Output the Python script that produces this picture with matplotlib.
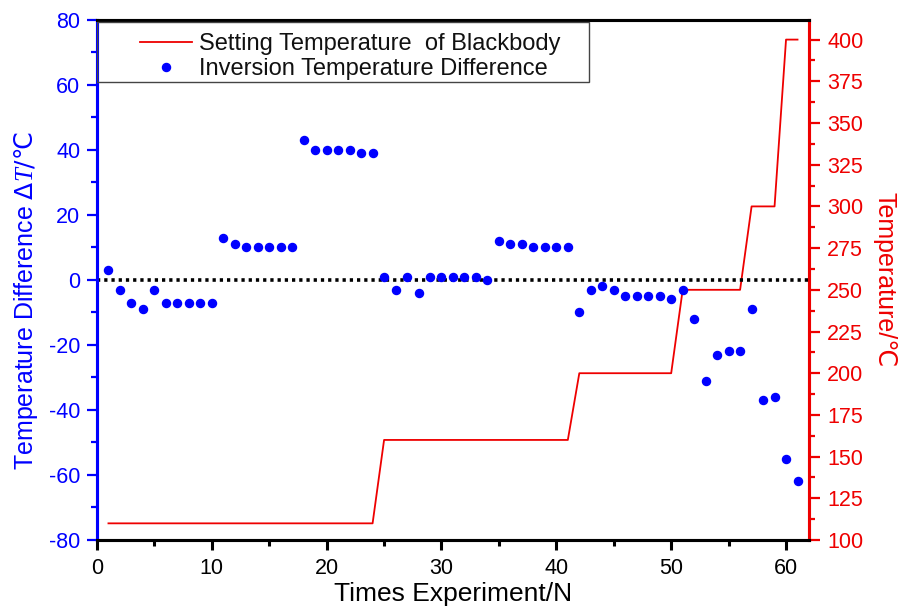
import numpy as np
import matplotlib
matplotlib.use("Agg")
import matplotlib.pyplot as plt
from matplotlib.ticker import MultipleLocator
from matplotlib.patches import Rectangle

plt.rcParams['font.family'] = ['Liberation Sans', 'DejaVu Sans']
plt.rcParams['axes.unicode_minus'] = False
plt.rcParams['mathtext.fontset'] = 'custom'
plt.rcParams['mathtext.rm'] = 'DejaVu Sans'
plt.rcParams['mathtext.it'] = 'Liberation Serif:italic'

# experiment index
runs = np.arange(1, 62)

# inverted temperature difference (deg C) per run
delta_t = [3, -3, -7, -9, -3, -7, -7, -7, -7, -7,
           13, 11, 10, 10, 10, 10, 10, 43, 40, 40,
           40, 40, 39, 39, 1, -3, 1, -4, 1, 1,
           1, 1, 1, 0, 12, 11, 11, 10, 10, 10,
           10, -10, -3, -2, -3, -5, -5, -5, -5, -6,
           -3, -12, -31, -23, -22, -22, -9, -37, -36, -55,
           -62]

# blackbody set points and how many runs each was held
bb_levels = [110, 160, 200, 250, 300, 400]
bb_counts = [24, 17, 9, 6, 3, 2]
bb_temp = np.repeat(bb_levels, bb_counts)

BLUE = '#0000ff'
RED = '#ee0000'

fig = plt.figure(figsize=(9.02, 6.08), dpi=100)
ax = fig.add_axes([0.1075, 0.1118, 0.7894, 0.856])
ax2 = ax.twinx()

# red step line on the right axis
line, = ax2.plot(runs, bb_temp, color=RED, lw=1.3,
                 label='Setting Temperature  of Blackbody')
ax2.set_ylim(100, 412)
ax2.yaxis.set_major_locator(MultipleLocator(25))
ax2.yaxis.set_minor_locator(MultipleLocator(12.5))

# blue points + zero line on the left axis, drawn on top
ax.set_zorder(ax2.get_zorder() + 1)
ax.patch.set_visible(False)
ax.axhline(0, color='black', lw=2.6, linestyle=(0, (0.9, 1.1)))
pts, = ax.plot(runs, delta_t, 'o', color=BLUE, ms=5.8, mec=BLUE,
               label='Inversion Temperature Difference')

ax.set_xlim(0, 62)
ax.set_ylim(-80, 80)
ax.xaxis.set_major_locator(MultipleLocator(10))
ax.xaxis.set_minor_locator(MultipleLocator(5))
ax.yaxis.set_major_locator(MultipleLocator(20))
ax.yaxis.set_minor_locator(MultipleLocator(10))

# spines
for a in (ax, ax2):
    for s in a.spines.values():
        s.set_linewidth(2.2)
ax.spines['left'].set_color(BLUE)
ax2.spines['left'].set_color(BLUE)
ax.spines['right'].set_color(RED)
ax2.spines['right'].set_color(RED)
ax.spines['bottom'].set_color('black')
ax.spines['top'].set_color('black')

ax.tick_params(axis='x', which='major', direction='out', length=7, width=2.2,
               labelsize=15.5, pad=6, colors='black')
ax.tick_params(axis='x', which='minor', direction='out', length=4.5, width=2.2)
ax.tick_params(axis='y', which='major', direction='out', length=7, width=1.6,
               labelsize=15.5, pad=5, colors=BLUE)
ax.tick_params(axis='y', which='minor', direction='out', length=4.5, width=1.6,
               colors=BLUE)
ax2.tick_params(axis='y', which='major', direction='out', length=8, width=1.6,
                labelsize=15.5, pad=5, colors=RED)
ax2.tick_params(axis='y', which='minor', direction='out', length=4.5, width=1.6,
                colors=RED)

ax.set_xlabel('Times Experiment/N', fontsize=19, labelpad=2)
ax.set_ylabel(r'Temperature Difference $\Delta T\mathrm{/℃}$', fontsize=18,
              color=BLUE)
ax.yaxis.set_label_coords(-0.08, 0.46)
ax2.set_ylabel('Temperature/℃', fontsize=18, color=RED, rotation=-90,
               labelpad=24)

# legend box hugging the top-left corner
ax.add_patch(Rectangle((0.0, 0.8805), 0.691, 0.114, transform=ax.transAxes,
                       fill=False, edgecolor='#444444', lw=1.0, zorder=5))
ax.legend(handles=[line, pts], loc='upper left',
          bbox_to_anchor=(0.0604, 0.974), frameon=False, fontsize=17,
          borderpad=0, borderaxespad=0, handlelength=2.2,
          handletextpad=0.3, labelspacing=0.12, labelcolor='#111111')

fig.savefig('out.png', dpi=100)
